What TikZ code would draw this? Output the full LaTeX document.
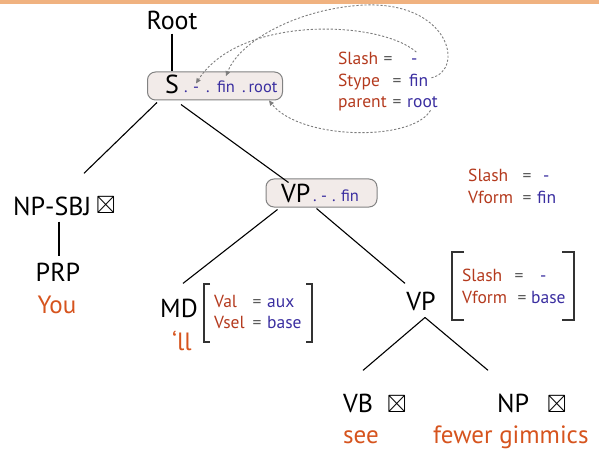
\documentclass[tikz,border=0pt]{standalone}
\usepackage{amssymb}
\usepackage{fontspec}
\setmainfont{PT Sans}
\usetikzlibrary{arrows.meta,calc}
\definecolor{fname}{RGB}{180,58,30}
\definecolor{fword}{RGB}{214,84,30}
\definecolor{fval}{RGB}{58,46,160}
\definecolor{feq}{RGB}{90,90,90}
\definecolor{boxfill}{RGB}{242,235,233}
\definecolor{boxline}{RGB}{130,130,130}
\definecolor{topbar}{RGB}{240,178,128}
\definecolor{dotc}{RGB}{125,125,125}
\tikzset{
  tl/.style={inner sep=0pt, font=\fontsize{26}{28}\selectfont, text=black},
  wd/.style={inner sep=0pt, font=\fontsize{25}{27}\selectfont, text=fword},
  fn/.style={inner sep=0pt, anchor=base west, font=\fontsize{17.5}{19}\selectfont, text=fname},
  fe/.style={inner sep=0pt, anchor=base, font=\fontsize{17.5}{19}\selectfont, text=feq},
  fv/.style={inner sep=0pt, anchor=base west, font=\fontsize{17.5}{19}\selectfont, text=fval},
  bt/.style={inner sep=0pt, anchor=base, font=\fontsize{16.5}{18}\selectfont, text=fval},
  fbox/.style={draw=boxline, fill=boxfill, rounded corners=8pt, line width=1pt},
  edge/.style={line width=1.1pt, black},
  brk/.style={line width=1.4pt, black!80},
  link/.style={draw=dotc, line width=0.9pt, dash pattern=on 2.2pt off 1.8pt, -{Triangle[length=5pt,width=4.5pt,fill=dotc]}},
  sq/.style={inner sep=0pt, font=\fontsize{25}{26}\selectfont}
}
\begin{document}
\begin{tikzpicture}[x=1pt,y=-1pt]
\useasboundingbox (0,0) rectangle (599,457);
\fill[topbar] (0,0) rectangle (599,4);

% Root and S
\node[tl, anchor=base] (root) at (172,30) {Root};
\node[fbox, minimum width=135pt, minimum height=28pt] (S) at (215,86) {};
\node[tl, anchor=base west] (slab) at (165,94) {S};
\node[bt] (sdot1) at (186,93) {.};
\node[bt] (sdash) at (196,93) {-};
\node[bt] (sdot2) at (208,93) {.};
\node[bt] (sfin) at (226,93) {fin};
\node[bt] (sdot3) at (244,93) {.};
\node[bt] (sroot) at (263,93) {root};

% S features
\node[fn] (fslash) at (338,65) {Slash};
\node[fe] (fslasheq) at (388,65) {=};
\node[fv] (fslashv) at (411,65) {-};
\node[fn] (fstype) at (338,87) {Stype};
\node[fe] (fstypeeq) at (397,87) {=};
\node[fv] (fstypev) at (409,87) {fin};
\node[fn] (fparent) at (338,108) {parent};
\node[fe] (fparenteq) at (397,108) {=};
\node[fv] (fparentv) at (407,108) {root};

% dotted links
\path[link] ([xshift=2pt,yshift=7pt]fslashv.north) .. controls (380,20) and (240,15) .. ([yshift=4pt]sdash.north);
\path[link] ([xshift=3pt,yshift=3pt]fstypev.east) .. controls (465,70) and (450,2) .. (365,5) .. controls (300,8) and (240,40) .. ([yshift=5pt]sfin.north);
\path[link] ([xshift=8pt,yshift=-2pt]fparentv.south) .. controls (412,142) and (300,140) .. ([xshift=6pt,yshift=-7pt]sroot.south);

% VP box
\node[fbox, minimum width=111pt, minimum height=28pt] (VP) at (321.5,193) {};
\node[tl, anchor=base west] (vplab) at (281,202) {VP};
\node[bt] (vdot1) at (315,201) {.};
\node[bt] (vdash) at (324,201) {-};
\node[bt] (vdot2) at (334,201) {.};
\node[bt] (vfin) at (350,201) {fin};

% VP features
\node[fn] (vslash) at (468,182) {Slash};
\node[fe] (vslasheq) at (527,182) {=};
\node[fv] (vslashv) at (543,182) {-};
\node[fn] (vvform) at (468,203) {Vform};
\node[fe] (vvformeq) at (527,203) {=};
\node[fv] (vvformv) at (537,203) {fin};

% NP-SBJ branch
\node[tl, anchor=base west] (npsbj) at (13,215) {NP-SBJ};
\node[sq, anchor=base west] (npsbjx) at (96,213) {$\boxtimes$};
\node[tl, anchor=base] (prp) at (58,281) {PRP};
\node[wd, anchor=base] (you) at (57,313) {You};

% MD
\node[tl, anchor=base west] (md) at (160,317) {MD};
\node[wd, anchor=base west] (ll) at (172,350) {‘ll};
\draw[brk] (210,284) -- (204,284) -- (204,342) -- (210,342);
\draw[brk] (306,284) -- (312,284) -- (312,342) -- (306,342);
\node[fn] (mval) at (214,307) {Val};
\node[fe] (mvaleq) at (257,307) {=};
\node[fv] (mvalv) at (267,307) {aux};
\node[fn] (mvsel) at (214,328) {Vsel};
\node[fe] (mvseleq) at (257,328) {=};
\node[fv] (mvselv) at (267,328) {base};

% VP2
\node[tl, anchor=base] (vp2) at (421,310) {VP};
\draw[brk] (464,252) -- (452,252) -- (452,320) -- (464,320);
\draw[brk] (562,252) -- (574,252) -- (574,320) -- (562,320);
\node[fn] (v2slash) at (462,281) {Slash};
\node[fe] (v2slasheq) at (519,281) {=};
\node[fv] (v2slashv) at (540,281) {-};
\node[fn] (v2vform) at (462,303) {Vform};
\node[fe] (v2vformeq) at (522,303) {=};
\node[fv] (v2vformv) at (531,303) {base};

% VB, NP
\node[tl, anchor=base west] (vb) at (343,412) {VB};
\node[sq, anchor=base west] (vbx) at (387,412) {$\boxtimes$};
\node[wd, anchor=base west] (see) at (343,443) {see};
\node[tl, anchor=base west] (np) at (497,412) {NP};
\node[sq, anchor=base west] (npx) at (547,412) {$\boxtimes$};
\node[wd, anchor=base west] (gim) at (433,443) {fewer gimmics};

% tree edges
\draw[edge] ([yshift=-3pt]root.south) -- (root.south |- S.north);
\draw[edge] ([xshift=10pt,yshift=-2pt]S.south west) -- ([xshift=71pt,yshift=23pt]npsbj.north west);
\draw[edge] ([xshift=-34pt,yshift=-4pt]S.south) -- ([xshift=23pt,yshift=-4pt]VP.north west);
\draw[edge] ([xshift=46pt,yshift=-6pt]npsbj.south west) -- ([xshift=1pt,yshift=6pt]prp.north);
\draw[edge] ([xshift=12pt,yshift=-2pt]VP.south west) -- ([xshift=23pt,yshift=15pt]md.north west);
\draw[edge] ([xshift=-5pt,yshift=-1pt]VP.south) -- ([xshift=-16pt,yshift=8pt]vp2.north);
\draw[edge] ([xshift=4pt,yshift=-7pt]vp2.south) -- ([xshift=20pt,yshift=23pt]vb.north west);
\draw[edge] ([xshift=4pt,yshift=-7pt]vp2.south) -- ([xshift=-9pt,yshift=23pt]np.north west);
\end{tikzpicture}
\end{document}
